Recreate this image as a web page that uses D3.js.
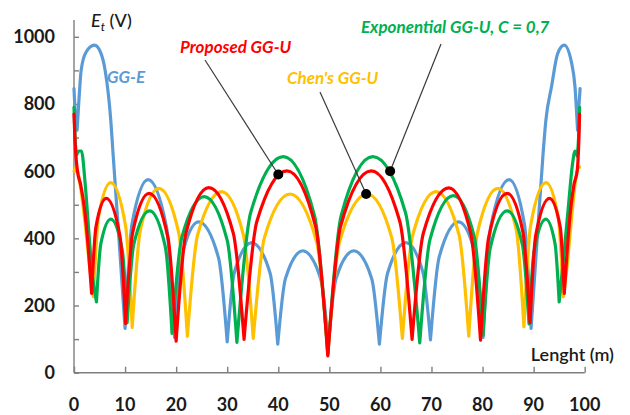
<!DOCTYPE html>
<html>
<head>
<meta charset="utf-8">
<script src="https://cdn.jsdelivr.net/npm/d3@7"></script>
<style>
  body { margin: 0; background: #fff; }
  svg { display: block; }
</style>
</head>
<body>
<div id="chart"></div>
<script>
// values: [length (m), Et (V)]
const ggE = [
  [0, 846], [0.25, 770], [0.6, 722],
  [1.0, 820], [1.4, 900], [2.35, 954], [4.0, 975], [5.3, 950], [6.1, 900], [7.2, 752], [7.6, 663], [8.8, 400], [10.0, 132],
  [11.35, 442], [14.5, 575], [18.1, 434], [19.7, 105],
  [21.1, 346], [24.4, 449], [28.3, 342], [30.0, 92],
  [31.4, 299], [34.8, 387], [38.4, 296], [39.9, 85],
  [41.4, 280], [44.8, 363], [48.3, 280], [49.8, 85],
  [51.3, 280], [54.8, 363], [58.3, 280], [59.8, 85],
  [61.4, 296], [65.0, 387], [68.3, 300], [69.8, 98],
  [71.5, 344], [75.3, 449], [78.7, 346], [80.1, 105],
  [81.6, 434], [85.2, 575], [88.2, 442], [89.5, 132],
  [90.7, 400], [91.9, 663], [92.4, 752], [93.5, 851], [94.7, 950], [96.0, 975], [97.45, 921], [98.1, 851], [98.6, 722],
  [98.85, 790], [99.1, 846]
];

const proposedGGU = [
  [0, 770], [0.2, 690], [0.65, 603], [1.3, 560], [2.0, 494], [2.8, 370], [3.45, 236],
  [4.3, 434], [6.3, 519], [9.0, 407], [10.1, 147],
  [11.5, 418], [14.7, 534], [18.4, 402], [20.0, 94],
  [21.9, 414], [26.4, 551], [31.2, 415], [33.3, 99],
  [35.8, 450], [41.7, 601], [47.3, 436], [49.7, 50],
  [52.2, 436], [58.2, 601], [63.8, 450], [66.2, 99],
  [68.4, 415], [73.4, 550], [77.7, 414], [79.6, 97],
  [81.2, 403], [84.8, 534], [87.9, 419], [89.3, 149],
  [90.4, 408], [93.1, 519], [95.2, 434], [96.0, 236],
  [96.6, 370], [97.3, 494], [97.9, 560], [98.55, 603], [98.85, 690], [99.0, 770]
];

const chenGGU = [
  [0, 600], [0.4, 612], [1.2, 560], [2.2, 440], [3.1, 310], [3.8, 226],
  [4.8, 464], [7.2, 566], [10.1, 437], [11.4, 135],
  [13.0, 425], [16.6, 549], [20.5, 417], [22.2, 109],
  [24.2, 410], [28.9, 539], [33.2, 408], [35.1, 102],
  [37.3, 403], [42.3, 532], [47.5, 390], [49.7, 60],
  [52.0, 390], [57.4, 532], [62.2, 403], [64.3, 102],
  [66.3, 408], [70.9, 539], [75.4, 410], [77.3, 109],
  [79.0, 417], [83.0, 549], [86.6, 425], [88.1, 137],
  [89.4, 437], [92.4, 566], [94.8, 464], [95.8, 226],
  [96.5, 310], [97.3, 440], [98.1, 560], [98.7, 610], [99.0, 612]
];

const expGGU = [
  [0, 790], [0.2, 700], [0.5, 648],
  [1.0, 660], [1.45, 660], [2.2, 560], [2.9, 420], [3.6, 290], [4.4, 211],
  [5.25, 383], [7.2, 457], [9.45, 365], [10.4, 149],
  [11.7, 382], [14.8, 482], [17.9, 373], [19.2, 117],
  [21.1, 402], [25.5, 524], [30.0, 394], [31.9, 90],
  [34.6, 477], [41.0, 643], [47.1, 467], [49.7, 55],
  [52.3, 467], [58.5, 643], [64.9, 477], [67.7, 89],
  [69.7, 396], [74.3, 527], [78.4, 403], [80.1, 112],
  [81.5, 371], [84.8, 482], [87.8, 381], [89.1, 145],
  [90.1, 363], [92.4, 457], [94.2, 383], [95.0, 211],
  [95.8, 330], [96.8, 494], [97.6, 620], [98.1, 660], [98.55, 645], [98.8, 700], [99.0, 790]
];

const xTicks = [0, 10, 20, 30, 40, 50, 60, 70, 80, 90, 100];
const yTicks = [0, 100, 200, 300, 400, 500, 600, 700, 800, 900, 1000];
const yLabels = [0, 200, 400, 600, 800, 1000];

// pointed samples on the curves, with their labels
const markers = [
  { name: "Proposed GG-U", x: 40, y: 590, color: "#ff0000", tx: 180, ty: 53, lx: 205, ly: 60 },
  { name: "Chen's GG-U", x: 57.2, y: 532, color: "#ffc000", tx: 287, ty: 84, lx: 320, ly: 92 },
  { name: "Exponential GG-U, C = 0,7", x: 61.9, y: 600, color: "#00b050", tx: 361, ty: 33, lx: 441, ly: 44 }
];

const width = 630, height = 415;
const margin = { top: 20, right: 45, bottom: 42, left: 74 };

const svg = d3.select("#chart")
  .append("svg")
  .attr("width", width)
  .attr("height", height);

const x = d3.scaleLinear()
  .domain([0, 100])
  .range([margin.left, 584.7]);

const y = d3.scaleLinear()
  .domain([0, 1050])
  .range([372.7, margin.top]);

const axisColor = "#7f7f7f";

// y axis, ticks inside
const yAxis = svg.append("g")
  .attr("transform", `translate(${x(0)},0)`)
  .call(d3.axisRight(y).tickValues(yTicks).tickSize(5).tickFormat(""));
yAxis.select(".domain").attr("d", `M0,${y(0)}V${y(1050)}`);
yAxis.selectAll("path, line").attr("stroke", axisColor).attr("stroke-width", 1.4);

// x axis, ticks inside
const xAxis = svg.append("g")
  .attr("transform", `translate(0,${y(0)})`)
  .call(d3.axisTop(x).tickValues(xTicks).tickSize(6).tickFormat(""));
xAxis.select(".domain").attr("d", `M${x(0)},0H${x(100)}`);
xAxis.selectAll("path, line").attr("stroke", axisColor).attr("stroke-width", 1.4);

svg.append("g")
  .selectAll("text")
  .data(yLabels)
  .join("text")
  .attr("x", x(0) - 19)
  .attr("y", d => y(d))
  .attr("dy", "0.36em")
  .attr("text-anchor", "end")
  .attr("font-family", "Lato, sans-serif")
  .attr("font-weight", 700)
  .attr("font-size", 18)
  .attr("fill", "#1a1a1a")
  .text(d => d);

svg.append("g")
  .selectAll("text")
  .data(xTicks)
  .join("text")
  .attr("x", d => x(d))
  .attr("y", 411)
  .attr("text-anchor", "middle")
  .attr("font-family", "Lato, sans-serif")
  .attr("font-weight", 700)
  .attr("font-size", 18)
  .attr("fill", "#1a1a1a")
  .text(d => d);

// axis titles
const yTitle = svg.append("text")
  .attr("x", 91)
  .attr("y", 27)
  .attr("font-family", "Lato, sans-serif")
  .attr("font-size", 18)
  .attr("font-weight", 500)
  .attr("fill", "#1a1a1a");
yTitle.append("tspan").attr("font-style", "italic").text("E");
yTitle.append("tspan").attr("font-style", "italic").attr("font-size", 12).attr("dy", 4).text("t");
yTitle.append("tspan").attr("dy", -4).text(" (V)");

svg.append("text")
  .attr("x", 614)
  .attr("y", 361)
  .attr("text-anchor", "end")
  .attr("font-family", "Lato, sans-serif")
  .attr("font-size", 18)
  .attr("font-weight", 600)
  .attr("fill", "#1a1a1a")
  .text("Lenght (m)");

// curves: each arch between two dips is smoothed on its own, so dips stay sharp
function arches(pts) {
  const segs = [];
  let cur = [pts[0]];
  for (let i = 1; i < pts.length; i++) {
    cur.push(pts[i]);
    if (i < pts.length - 1 && pts[i][1] < pts[i - 1][1] && pts[i][1] < pts[i + 1][1]) {
      segs.push(cur);
      cur = [pts[i]];
    }
  }
  segs.push(cur);
  return segs;
}

const line = d3.line()
  .x(d => x(d[0]))
  .y(d => y(d[1]))
  .curve(d3.curveMonotoneX);

const series = [
  { data: ggE, color: "#5b9bd5" },
  { data: chenGGU, color: "#ffc000" },
  { data: expGGU, color: "#00b050" },
  { data: proposedGGU, color: "#ff0000" }
];

svg.append("g")
  .selectAll("path")
  .data(series)
  .join("path")
  .attr("d", s => arches(s.data).map(seg => line(seg)).join(""))
  .attr("fill", "none")
  .attr("stroke", s => s.color)
  .attr("stroke-width", 3.2)
  .attr("stroke-linecap", "round")
  .attr("stroke-linejoin", "round");

// leader lines and dots
svg.append("g")
  .selectAll("line")
  .data(markers)
  .join("line")
  .attr("x1", d => d.lx)
  .attr("y1", d => d.ly)
  .attr("x2", d => x(d.x))
  .attr("y2", d => y(d.y))
  .attr("stroke", "#3a3a3a")
  .attr("stroke-width", 1.2);

svg.append("g")
  .selectAll("circle")
  .data(markers)
  .join("circle")
  .attr("cx", d => x(d.x))
  .attr("cy", d => y(d.y))
  .attr("r", 5)
  .attr("fill", "#000");

svg.append("g")
  .selectAll("text")
  .data(markers)
  .join("text")
  .attr("x", d => d.tx)
  .attr("y", d => d.ty)
  .attr("font-family", "Lato, sans-serif")
  .attr("font-weight", 700)
  .attr("font-style", "italic")
  .attr("font-size", 17)
  .attr("fill", d => d.color)
  .text(d => d.name);

svg.append("text")
  .attr("x", 107)
  .attr("y", 83)
  .attr("font-family", "Lato, sans-serif")
  .attr("font-weight", 700)
  .attr("font-style", "italic")
  .attr("font-size", 17)
  .attr("fill", "#5b9bd5")
  .text("GG-E");
</script>
</body>
</html>
